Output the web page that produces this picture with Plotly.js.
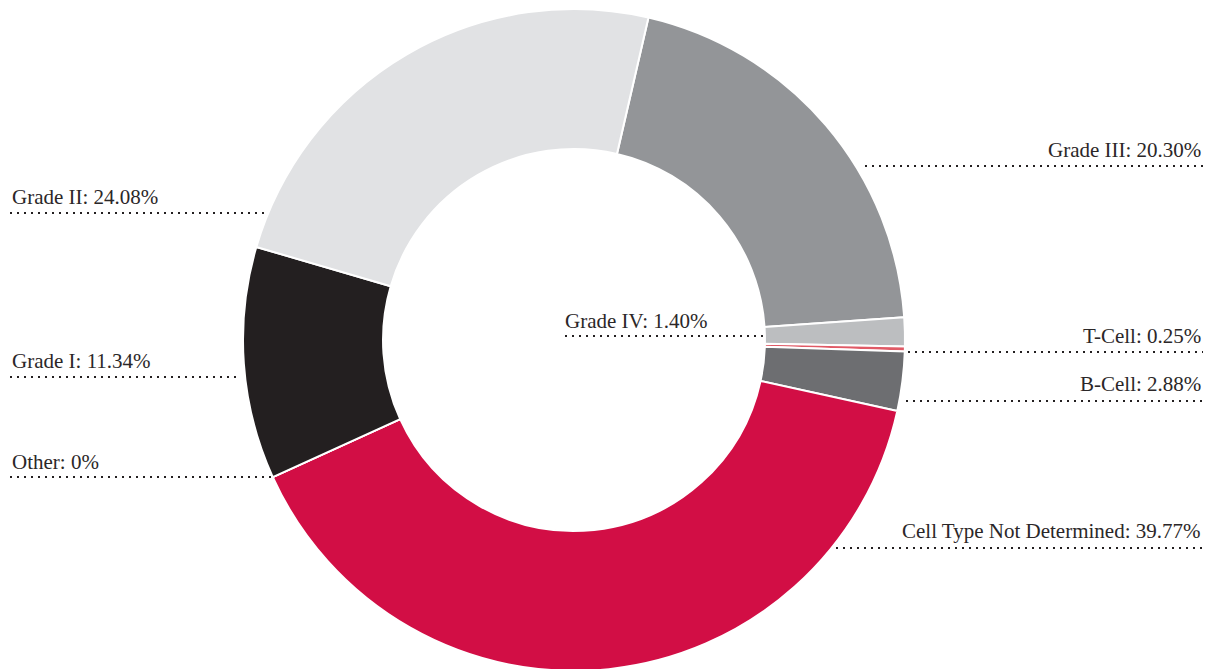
<!DOCTYPE html>
<html>
<head>
<meta charset="utf-8">
<script src="https://cdn.plot.ly/plotly-3.0.1.min.js"></script>
<style>
html,body{margin:0;padding:0;background:#fff;overflow:hidden;}
#chart{width:1213px;height:681px;}
</style>
</head>
<body>
<div id="chart"></div>
<script>
// Data
const labels = ["Grade III", "Grade IV", "T-Cell", "B-Cell", "Cell Type Not Determined", "Other", "Grade I", "Grade II"];
const values = [20.30, 1.40, 0.25, 2.88, 39.77, 0, 11.34, 24.08];
const colors = ["#939598", "#bcbec0", "#e05a66", "#6d6e71", "#d20e45", "#999999", "#231f20", "#e1e2e4"];

// Label placement (pixels): text anchor and leader line
const W = 1213, H = 681;
const labelLayout = {
  "Grade III": {side: "right", tx: 1203, ty: 150, x0: 865, x1: 1203, ly: 166},
  "Grade IV": {side: "left", tx: 563, ty: 321, x0: 565, x1: 764, ly: 336},
  "T-Cell": {side: "right", tx: 1203, ty: 336, x0: 908, x1: 1203, ly: 352},
  "B-Cell": {side: "right", tx: 1203, ty: 384, x0: 906, x1: 1203, ly: 401},
  "Cell Type Not Determined": {side: "right", tx: 1203, ty: 531, x0: 836, x1: 1203, ly: 548},
  "Other": {side: "left", tx: 10, ty: 462, x0: 10, x1: 272, ly: 477},
  "Grade I": {side: "left", tx: 10, ty: 361, x0: 10, x1: 240, ly: 377},
  "Grade II": {side: "left", tx: 10, ty: 197, x0: 10, x1: 268, ly: 213}
};

function fmt(v){ return v === 0 ? "0%" : v.toFixed(2) + "%"; }

const annotations = [];
const shapes = [];
labels.forEach((lab, i) => {
  const p = labelLayout[lab];
  annotations.push({
    xref: "paper", yref: "paper",
    x: p.tx / W, y: 1 - p.ty / H,
    xanchor: p.side === "right" ? "right" : "left",
    yanchor: "middle",
    text: lab + ": " + fmt(values[i]),
    showarrow: false,
    font: {family: "Liberation Serif, serif", size: 21, color: "#2b2728"}
  });
  shapes.push({
    type: "line", xref: "paper", yref: "paper",
    x0: p.x0 / W, x1: p.x1 / W, y0: 1 - p.ly / H, y1: 1 - p.ly / H,
    line: {color: "#231f20", width: 2, dash: "2px,5px"}
  });
});

const cx = 574, cy = 340, R = 331;
const trace = {
  type: "pie",
  labels: labels,
  values: values,
  sort: false,
  direction: "clockwise",
  rotation: 13,
  hole: 0.577,
  textinfo: "none",
  hoverinfo: "label+value",
  marker: {colors: colors, line: {color: "#ffffff", width: 2}},
  domain: {x: [(cx - R) / W, (cx + R) / W], y: [(H - cy - R) / H, (H - cy + R) / H]},
  showlegend: false
};

Plotly.newPlot("chart", [trace], {
  width: W, height: H,
  margin: {l: 0, r: 0, t: 0, b: 0},
  paper_bgcolor: "#ffffff",
  showlegend: false,
  annotations: annotations,
  shapes: shapes
}, {displayModeBar: false, staticPlot: true});
</script>
</body>
</html>
